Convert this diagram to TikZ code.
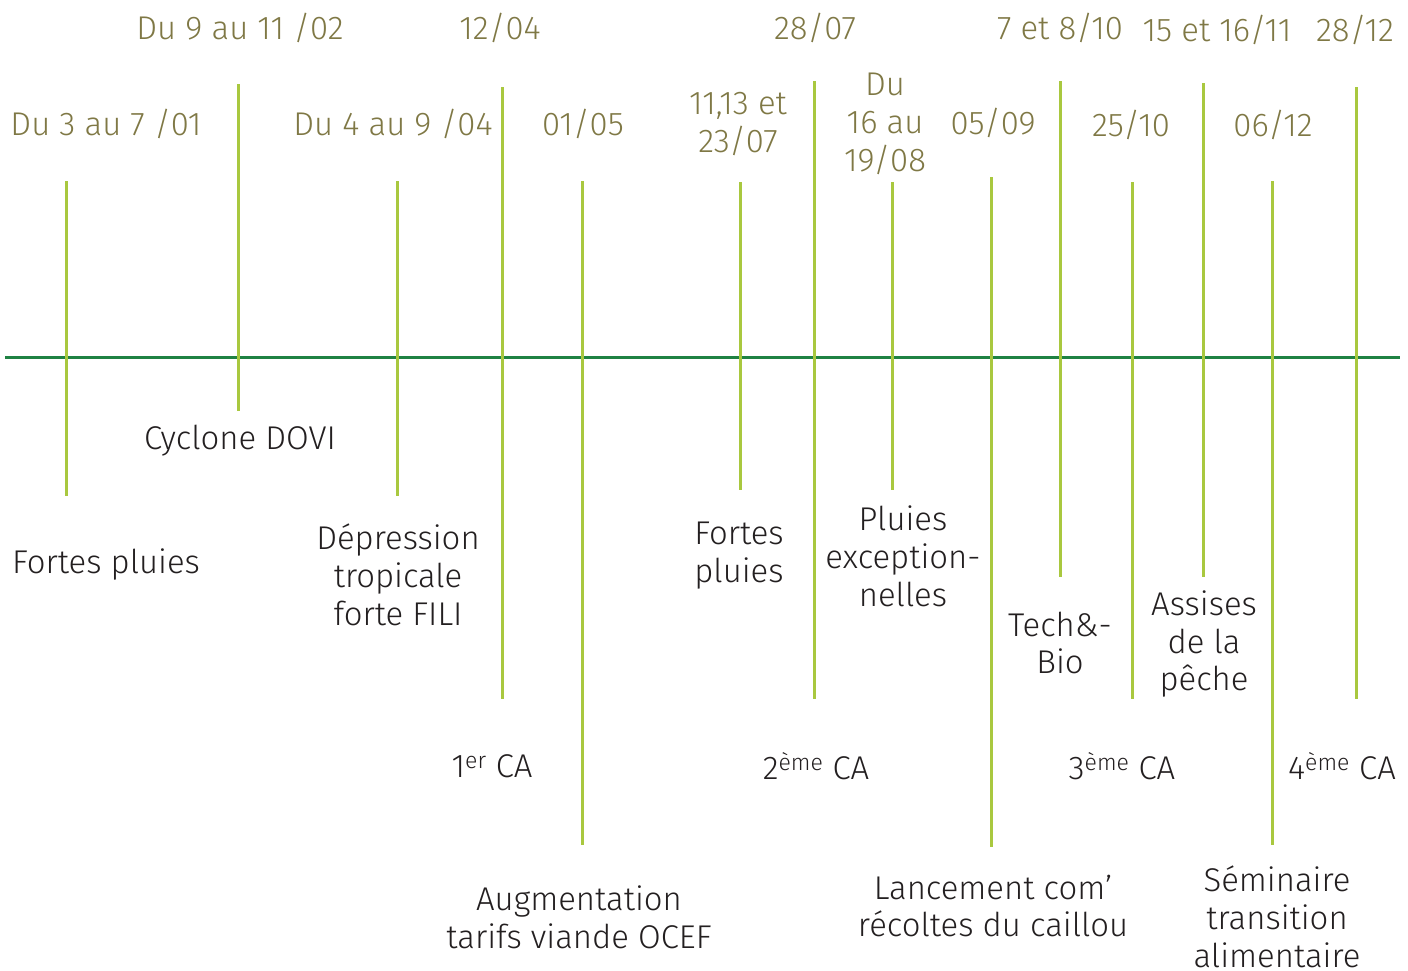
\documentclass[tikz,border=0pt]{standalone}
\usepackage{fontspec}
\setmainfont{Fira Sans}[UprightFont=* Light]
\definecolor{datec}{HTML}{7F7845}
\definecolor{tick}{HTML}{A9C83F}
\definecolor{axis}{HTML}{1F8243}
\definecolor{txt}{HTML}{231F20}
\begin{document}
\begin{tikzpicture}[x=1bp,y=-1bp,
  tickline/.style={draw=tick,line width=3bp},
  axisline/.style={draw=axis,line width=3bp},
  datelbl/.style={text=datec,font=\fontsize{33}{38}\selectfont,align=center,inner sep=0pt},
  evlbl/.style={text=txt,font=\fontsize{33}{38}\selectfont,align=center,inner sep=0pt}]
\useasboundingbox (0,0) rectangle (1408,970);
\draw[axisline] (5,357) coordinate (axL) -- (1400,357) coordinate (axR);
% ticks
\foreach \n/\x/\a/\b in {t1/66/181/496, t2/238/84/411, t3/397/181/496, t4/502/87/699,
  t5/582/181/845, t6/740/182/490, t7/814/81/699, t8/892/182/490, t9/991/177/847,
  t10/1060/81/577, t11/1132/182/699, t12/1203/83/577, t13/1272/181/845, t14/1356/87/699}
  {\draw[tickline] (\x,\a) coordinate (\n top) -- (\x,\b) coordinate (\n bot);}
% top dates
\node[datelbl] (d2) at (240,28) {Du 9 au 11 /02};
\node[datelbl] (d4) at (500,28) {12/04};
\node[datelbl] (d7) at (815,28) {28/07};
\node[datelbl] (d10) at (1060,28) {7 et 8/10};
\node[datelbl] (d12) at (1217,30) {15 et 16/11};
\node[datelbl] (d14) at (1355,30) {28/12};
% second row dates
\node[datelbl] (d1) at (106,124) {Du 3 au 7 /01};
\node[datelbl] (d3) at (393,124) {Du 4 au 9 /04};
\node[datelbl] (d5) at (583,124) {01/05};
\node[datelbl] (d6) at (738,124) {11,13 et\\23/07};
\node[datelbl] (d8) at (885,124) {Du\\16 au\\19/08};
\node[datelbl] (d9) at (993,123) {05/09};
\node[datelbl] (d11) at (1131,125) {25/10};
\node[datelbl] (d13) at (1273,125) {06/12};
% events
\node[evlbl] (e2) at (240,441) {Cyclone DOVI};
\node[evlbl] (e1) at (106,564) {Fortes pluies};
\node[evlbl] (e3) at (398,575) {Dépression\\tropicale\\forte FILI};
\node[evlbl] (e6) at (739,556) {Fortes\\pluies};
\node[evlbl] (e8) at (903,556) {Pluies\\exception-\\nelles};
\node[evlbl] (e10) at (1060,643) {Tech\&-\\Bio};
\node[evlbl] (e12) at (1204,644) {Assises\\de la\\pêche};
\node[evlbl] (e4) at (492,766) {1\textsuperscript{er} CA};
\node[evlbl] (e7) at (816,766) {2\textsuperscript{ème} CA};
\node[evlbl] (e11) at (1122,766) {3\textsuperscript{ème} CA};
\node[evlbl] (e14) at (1342,766) {4\textsuperscript{ème} CA};
\node[evlbl] (e5) at (579,917) {Augmentation\\tarifs viande OCEF};
\node[evlbl] (e9) at (993,906) {Lancement com’\\récoltes du caillou};
\node[evlbl] (e13) at (1277,917) {Séminaire\\transition\\alimentaire};
\end{tikzpicture}
\end{document}
